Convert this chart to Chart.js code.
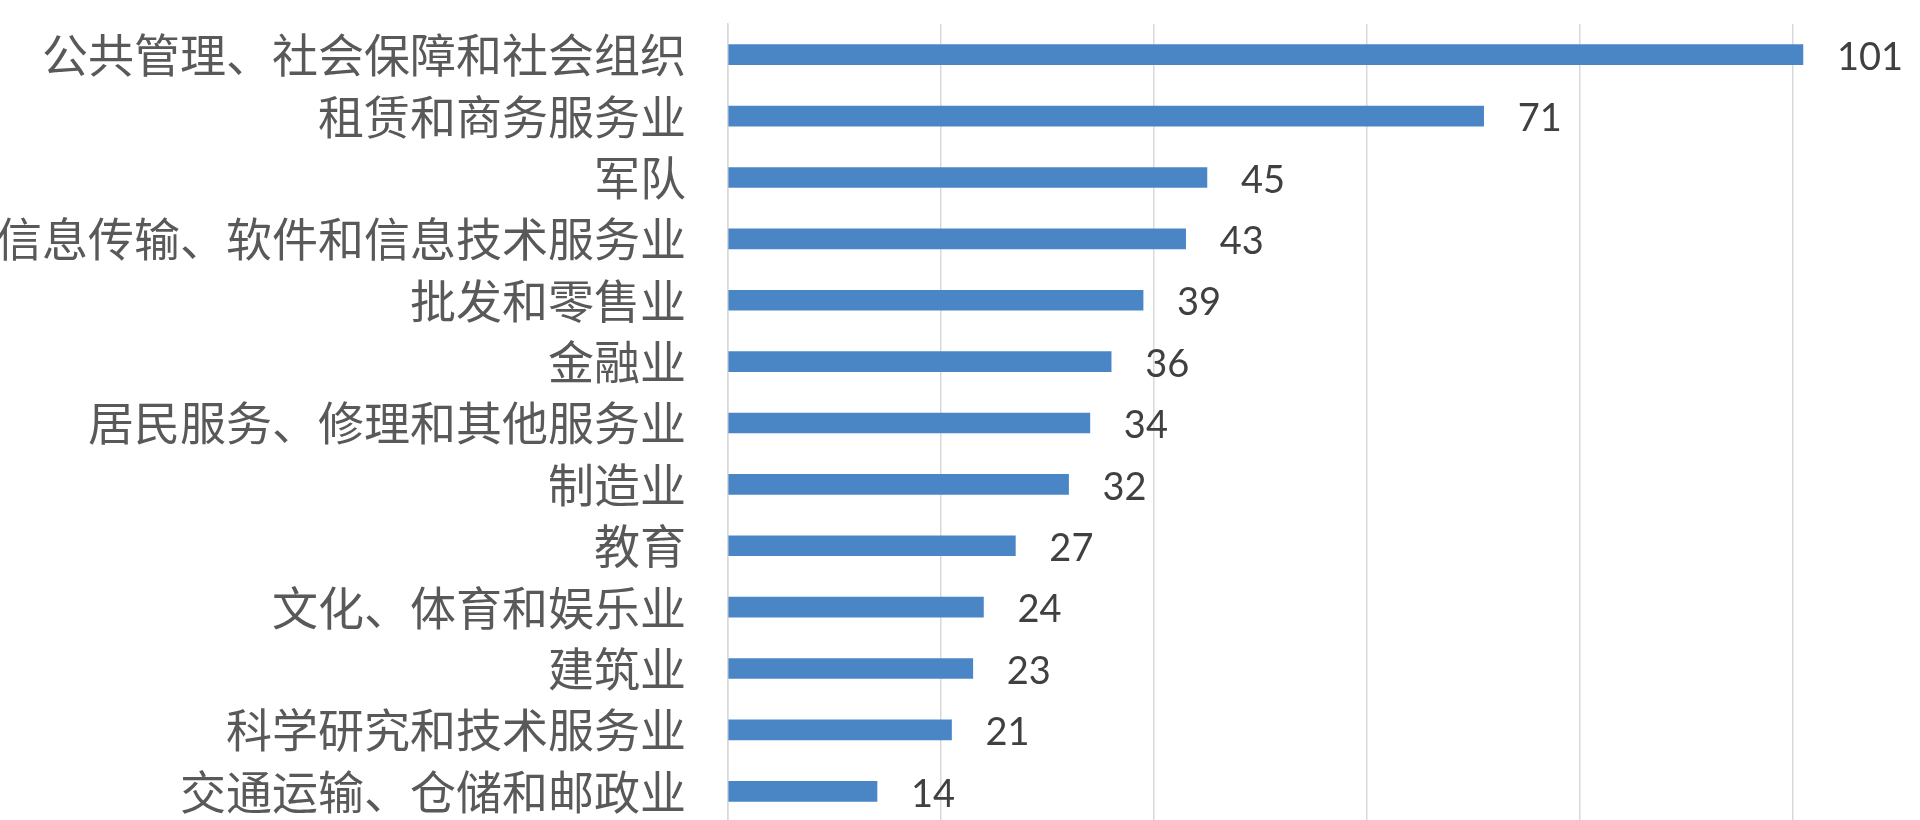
<!DOCTYPE html>
<html>
<head>
<meta charset="utf-8">
<script src="https://cdn.jsdelivr.net/npm/chart.js@4/dist/chart.umd.min.js"></script>
<style>
  html, body { margin: 0; padding: 0; background: #fff; overflow: hidden; }
  #wrap { position: relative; width: 1920px; height: 822px; }
</style>
</head>
<body>
<div id="wrap"><canvas id="chart"></canvas></div>
<script>
// Industries, top to bottom
var categories = [
  '公共管理、社会保障和社会组织',
  '租赁和商务服务业',
  '军队',
  '信息传输、软件和信息技术服务业',
  '批发和零售业',
  '金融业',
  '居民服务、修理和其他服务业',
  '制造业',
  '教育',
  '文化、体育和娱乐业',
  '建筑业',
  '科学研究和技术服务业',
  '交通运输、仓储和邮政业'
];
var counts = [101, 71, 45, 43, 39, 36, 34, 32, 27, 24, 23, 21, 14];
var gridValues = [0, 20, 40, 60, 80, 100];

// Draw the value at the end of each bar
var valueLabels = {
  id: 'valueLabels',
  afterDatasetsDraw: function(chart) {
    var ctx = chart.ctx;
    var meta = chart.getDatasetMeta(0);
    ctx.save();
    ctx.font = '38px Lato';
    ctx.fillStyle = '#404040';
    ctx.textAlign = 'left';
    ctx.textBaseline = 'middle';
    meta.data.forEach(function(bar, i) {
      ctx.fillText(String(counts[i]), bar.x + 34, bar.y + 3);
    });
    ctx.restore();
  }
};

var ctx = document.getElementById('chart').getContext('2d');
new Chart(ctx, {
  type: 'bar',
  data: {
    labels: categories,
    datasets: [{
      data: counts,
      backgroundColor: '#4a86c6',
      barThickness: 20,
      borderWidth: 0
    }]
  },
  options: {
    indexAxis: 'y',
    responsive: true,
    maintainAspectRatio: false,
    animation: false,
    layout: { padding: { top: 24, right: 0, bottom: 0, left: 0 } },
    plugins: {
      legend: { display: false },
      tooltip: { enabled: false }
    },
    scales: {
      x: {
        min: 0,
        max: 112,
        afterBuildTicks: function(scale) {
          scale.ticks = gridValues.map(function(v) { return { value: v }; });
        },
        afterFit: function(scale) {
          scale.height = 0;
          scale.paddingLeft = 0;
          scale.paddingRight = 0;
        },
        ticks: { display: false },
        grid: { color: '#d9d9d9', lineWidth: 1.5, drawTicks: false },
        border: { display: false }
      },
      y: {
        afterFit: function(scale) {
          scale.width = 728;
          scale.paddingTop = 0;
          scale.paddingBottom = 0;
        },
        ticks: {
          color: '#595959',
          font: { family: '"Noto Sans CJK SC"', size: 46 },
          padding: 42,
          autoSkip: false
        },
        grid: { display: false, drawTicks: false },
        border: { display: true, color: '#d9d9d9', width: 1.5 }
      }
    }
  },
  plugins: [valueLabels]
});
</script>
</body>
</html>
